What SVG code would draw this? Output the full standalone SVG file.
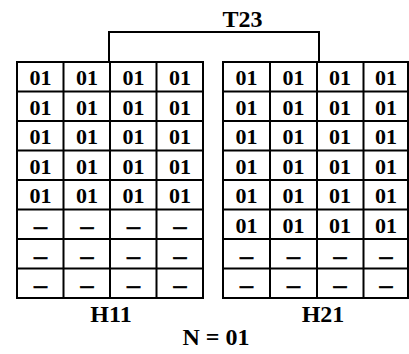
<svg xmlns="http://www.w3.org/2000/svg" width="409" height="354" viewBox="0 0 409 354">
<style>
.grid{fill:none;stroke:#000;stroke-width:2}
.c{font-family:"Liberation Serif","Times New Roman",serif;font-weight:bold;font-size:22px;text-anchor:middle;fill:#000}
.d{font-family:"Liberation Serif","Times New Roman",serif;font-weight:bold;font-size:26px;text-anchor:middle;fill:#000;stroke:#000;stroke-width:0.6}
.lbl{font-family:"Liberation Serif","Times New Roman",serif;font-weight:bold;font-size:24px;text-anchor:middle;fill:#000}
</style>
<rect width="409" height="354" fill="#fff"/>
<g id="connectors">
<path class="grid" d="M109,62 V32 H319 V62"/>
</g>
<g id="T23"><text class="lbl" x="242.5" y="27">T23</text></g>
<g id="H11">
<path class="grid" d="M17,62 H203 V298 H17 Z M63.5,62 V298 M110,62 V298 M156.5,62 V298 M17,91.5 H203 M17,121 H203 M17,150.5 H203 M17,180 H203 M17,209.5 H203 M17,239 H203 M17,268.5 H203"/>
<g class="c">
<text x="40.5" y="85">01</text><text x="87" y="85">01</text><text x="133.5" y="85">01</text><text x="180" y="85">01</text>
<text x="40.5" y="114.5">01</text><text x="87" y="114.5">01</text><text x="133.5" y="114.5">01</text><text x="180" y="114.5">01</text>
<text x="40.5" y="144">01</text><text x="87" y="144">01</text><text x="133.5" y="144">01</text><text x="180" y="144">01</text>
<text x="40.5" y="173.5">01</text><text x="87" y="173.5">01</text><text x="133.5" y="173.5">01</text><text x="180" y="173.5">01</text>
<text x="40.5" y="203">01</text><text x="87" y="203">01</text><text x="133.5" y="203">01</text><text x="180" y="203">01</text>
</g>
<g class="d">
<text x="40.5" y="234">–</text><text x="87" y="234">–</text><text x="133.5" y="234">–</text><text x="180" y="234">–</text>
<text x="40.5" y="263.5">–</text><text x="87" y="263.5">–</text><text x="133.5" y="263.5">–</text><text x="180" y="263.5">–</text>
<text x="40.5" y="293">–</text><text x="87" y="293">–</text><text x="133.5" y="293">–</text><text x="180" y="293">–</text>
</g>
<text class="lbl" x="111" y="322">H11</text>
</g>
<g id="H21">
<path class="grid" d="M223,62 H408 V298 H223 Z M270,62 V298 M317,62 V298 M363.5,62 V298 M223,91.5 H408 M223,121 H408 M223,150.5 H408 M223,180 H408 M223,209.5 H408 M223,239 H408 M223,268.5 H408"/>
<g class="c">
<text x="246.5" y="85">01</text><text x="293.5" y="85">01</text><text x="340" y="85">01</text><text x="386" y="85">01</text>
<text x="246.5" y="114.5">01</text><text x="293.5" y="114.5">01</text><text x="340" y="114.5">01</text><text x="386" y="114.5">01</text>
<text x="246.5" y="144">01</text><text x="293.5" y="144">01</text><text x="340" y="144">01</text><text x="386" y="144">01</text>
<text x="246.5" y="173.5">01</text><text x="293.5" y="173.5">01</text><text x="340" y="173.5">01</text><text x="386" y="173.5">01</text>
<text x="246.5" y="203">01</text><text x="293.5" y="203">01</text><text x="340" y="203">01</text><text x="386" y="203">01</text>
<text x="246.5" y="232.5">01</text><text x="293.5" y="232.5">01</text><text x="340" y="232.5">01</text><text x="386" y="232.5">01</text>
</g>
<g class="d">
<text x="246.5" y="263.5">–</text><text x="293.5" y="263.5">–</text><text x="340" y="263.5">–</text><text x="386" y="263.5">–</text>
<text x="246.5" y="293">–</text><text x="293.5" y="293">–</text><text x="340" y="293">–</text><text x="386" y="293">–</text>
</g>
<text class="lbl" x="323" y="322">H21</text>
</g>
<g id="N"><text class="lbl" x="216" y="345">N = 01</text></g>
</svg>
